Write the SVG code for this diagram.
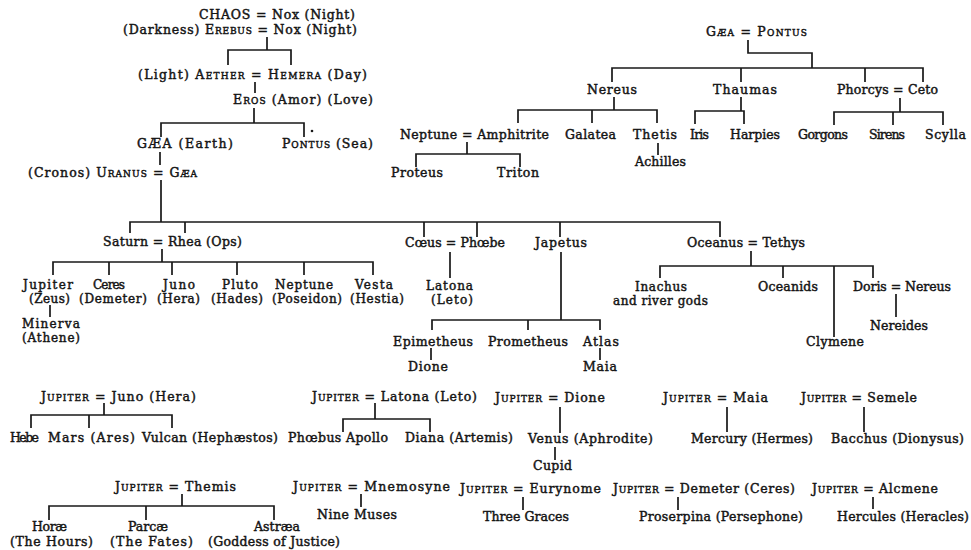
<svg xmlns="http://www.w3.org/2000/svg" width="971" height="550" viewBox="0 0 971 550">
<style>
text{font-family:"DejaVu Serif","Liberation Serif",serif;font-size:12.5px;fill:#141414;stroke:#141414;stroke-width:0.45px}
text.s2{font-size:12px}
.sc{font-variant:small-caps}
#connectors path{fill:none;stroke:#181818;stroke-width:1.7}
</style>
<rect width="971" height="550" fill="#fff"/>
<g id="connectors">
<path d="M267 37V50M228 65V50H291V65"/>
<path d="M255 82V93"/>
<path d="M254 108V123M161 137V123H304V137"/>
<path d="M160 152V165"/>
<path d="M161 180V222M130 233V222H720V237M185 222V233M424 222V237M477 222V237M560 222V237"/>
<path d="M162 249V262M53 275V262H373V275M109 262V275M172 262V275M237 262V275M304 262V275"/>
<path d="M50 305V317"/>
<path d="M450 252V278"/>
<path d="M561 252V320M432 330V320H600V330M528 320V330"/>
<path d="M431 348V360M600 348V360"/>
<path d="M751 251V266M660 278V266H873V278M783 266V278M834 266V337"/>
<path d="M896 294V317"/>
<path d="M748 40V53H812V68M612 82V68H923V82M741 68V82M865 68V82"/>
<path d="M614 97V110M518 123V110H657V123M592 110V123"/>
<path d="M741 97V111M695 124V111H744V124"/>
<path d="M900 98V112M834 125V112H943V125M893 112V125"/>
<path d="M658 143V155"/>
<path d="M467 142V154M416 167V154H520V167"/>
<path d="M104 403V415M31 428V415H172V428M89 415V428"/>
<path d="M375 403V419M343 432V419H430V432"/>
<path d="M560 407V433M555 447V460"/>
<path d="M727 407V432M864 407V432"/>
<path d="M182 494V506M49 520V506H274V520M146 506V520"/>
<path d="M361 494V507M523 497V510M678 497V510M873 497V509"/>
<circle cx="312" cy="131" r="1.3" fill="#181818"/>
</g>
<g id="chaos"><text x="199" y="19" textLength="156">CHAOS = Nox (Night)</text></g>
<g id="erebus"><text x="123" y="34" textLength="234">(Darkness) <tspan class="sc">Erebus</tspan> = Nox (Night)</text></g>
<g id="aether"><text x="138" y="79" textLength="229">(Light) <tspan class="sc">Aether</tspan> = <tspan class="sc">Hemera</tspan> (Day)</text></g>
<g id="eros"><text x="233" y="104" textLength="140"><tspan class="sc">Eros</tspan> (Amor) (Love)</text></g>
<g id="gaea-earth"><text x="137" y="148" textLength="96">GÆA (Earth)</text></g>
<g id="pontus-sea"><text x="282" y="148" textLength="91"><tspan class="sc">Pontus</tspan> (Sea)</text></g>
<g id="uranus"><text x="28" y="177" textLength="169">(Cronos) <tspan class="sc">Uranus</tspan> = <tspan class="sc">Gæa</tspan></text></g>
<g id="saturn"><text x="103" y="246" textLength="139">Saturn = Rhea (Ops)</text></g>
<g id="jupiter-zeus"><text class="s2" x="23" y="288.5" textLength="50">Jupiter</text><text class="s2" x="29" y="302.5" textLength="41">(Zeus)</text></g>
<g id="ceres"><text class="s2" x="93" y="288.5" textLength="32">Ceres</text><text class="s2" x="79" y="302.5" textLength="68">(Demeter)</text></g>
<g id="juno"><text class="s2" x="163" y="288.5" textLength="32">Juno</text><text class="s2" x="157" y="302.5" textLength="43">(Hera)</text></g>
<g id="pluto"><text class="s2" x="222" y="288.5" textLength="36">Pluto</text><text class="s2" x="211" y="302.5" textLength="52">(Hades)</text></g>
<g id="neptune"><text class="s2" x="275" y="288.5" textLength="58">Neptune</text><text class="s2" x="272" y="302.5" textLength="70">(Poseidon)</text></g>
<g id="vesta"><text class="s2" x="355" y="288.5" textLength="38">Vesta</text><text class="s2" x="350" y="302.5" textLength="54">(Hestia)</text></g>
<g id="minerva"><text class="s2" x="22" y="327.5" textLength="58">Minerva</text><text class="s2" x="22" y="341.5" textLength="58">(Athene)</text></g>
<g id="coeus"><text x="405" y="247" textLength="100">Cœus = Phœbe</text></g>
<g id="japetus"><text x="535" y="247" textLength="52">Japetus</text></g>
<g id="oceanus"><text x="687" y="247" textLength="118">Oceanus = Tethys</text></g>
<g id="latona"><text class="s2" x="426" y="290" textLength="47">Latona</text><text class="s2" x="431" y="304" textLength="42">(Leto)</text></g>
<g id="epimetheus"><text x="393" y="346" textLength="80">Epimetheus</text></g>
<g id="prometheus"><text x="488" y="346" textLength="80">Prometheus</text></g>
<g id="atlas"><text x="583" y="346" textLength="36">Atlas</text></g>
<g id="dione"><text x="408" y="371" textLength="40">Dione</text></g>
<g id="maia"><text x="583" y="371" textLength="34">Maia</text></g>
<g id="inachus"><text class="s2" x="635" y="290.5" textLength="52">Inachus</text><text class="s2" x="613" y="304.5" textLength="95">and river gods</text></g>
<g id="oceanids"><text x="758" y="291" textLength="60">Oceanids</text></g>
<g id="doris"><text x="853" y="291" textLength="98">Doris = Nereus</text></g>
<g id="nereides"><text x="870" y="330" textLength="58">Nereides</text></g>
<g id="clymene"><text x="806" y="346" textLength="58">Clymene</text></g>
<g id="gaea-pontus"><text x="706" y="36" textLength="101"><tspan class="sc">Gæa</tspan> = <tspan class="sc">Pontus</tspan></text></g>
<g id="nereus"><text x="587" y="94" textLength="50">Nereus</text></g>
<g id="thaumas"><text x="713" y="94" textLength="64">Thaumas</text></g>
<g id="phorcys"><text x="837" y="94" textLength="101">Phorcys = Ceto</text></g>
<g id="neptune-amphitrite"><text x="400" y="139" textLength="149">Neptune = Amphitrite</text></g>
<g id="galatea"><text x="565" y="139" textLength="51">Galatea</text></g>
<g id="thetis"><text x="633" y="139" textLength="44">Thetis</text></g>
<g id="iris"><text x="690" y="139" textLength="19">Iris</text></g>
<g id="harpies"><text x="730" y="139" textLength="50">Harpies</text></g>
<g id="gorgons"><text x="798" y="139" textLength="50">Gorgons</text></g>
<g id="sirens"><text x="869" y="139" textLength="36">Sirens</text></g>
<g id="scylla"><text x="925" y="139" textLength="41">Scylla</text></g>
<g id="achilles"><text x="635" y="166" textLength="51">Achilles</text></g>
<g id="proteus"><text x="391" y="177" textLength="52">Proteus</text></g>
<g id="triton"><text x="497" y="177" textLength="42">Triton</text></g>
<g id="jupiter-juno"><text x="41" y="401" textLength="155"><tspan class="sc">Jupiter</tspan> = Juno (Hera)</text></g>
<g id="hebe"><text x="10" y="442" textLength="29">Hebe</text></g>
<g id="mars"><text x="48" y="442" textLength="87">Mars (Ares)</text></g>
<g id="vulcan"><text x="142" y="442" textLength="136">Vulcan (Hephæstos)</text></g>
<g id="jupiter-latona"><text x="312" y="401" textLength="165"><tspan class="sc">Jupiter</tspan> = Latona (Leto)</text></g>
<g id="apollo"><text x="288" y="442" textLength="100">Phœbus Apollo</text></g>
<g id="diana"><text x="405" y="442" textLength="108">Diana (Artemis)</text></g>
<g id="jupiter-dione"><text x="495" y="402" textLength="110"><tspan class="sc">Jupiter</tspan> = Dione</text></g>
<g id="venus"><text x="528" y="443" textLength="125">Venus (Aphrodite)</text></g>
<g id="cupid"><text x="533" y="470" textLength="39">Cupid</text></g>
<g id="jupiter-maia"><text x="663" y="402" textLength="105"><tspan class="sc">Jupiter</tspan> = Maia</text></g>
<g id="mercury"><text x="691" y="443" textLength="122">Mercury (Hermes)</text></g>
<g id="jupiter-semele"><text x="801" y="402" textLength="116"><tspan class="sc">Jupiter</tspan> = Semele</text></g>
<g id="bacchus"><text x="831" y="443" textLength="133">Bacchus (Dionysus)</text></g>
<g id="jupiter-themis"><text x="115" y="491" textLength="121"><tspan class="sc">Jupiter</tspan> = Themis</text></g>
<g id="horae"><text x="32" y="531" textLength="35">Horæ</text><text x="10" y="546" textLength="83">(The Hours)</text></g>
<g id="parcae"><text x="128" y="531" textLength="40">Parcæ</text><text x="110" y="546" textLength="83">(The Fates)</text></g>
<g id="astraea"><text x="254" y="531" textLength="46">Astræa</text><text x="208" y="546" textLength="132">(Goddess of Justice)</text></g>
<g id="jupiter-mnemosyne"><text x="293" y="491" textLength="157"><tspan class="sc">Jupiter</tspan> = Mnemosyne</text></g>
<g id="nine-muses"><text x="317" y="519" textLength="80">Nine Muses</text></g>
<g id="jupiter-eurynome"><text x="460" y="493" textLength="141"><tspan class="sc">Jupiter</tspan> = Eurynome</text></g>
<g id="three-graces"><text x="483" y="521" textLength="86">Three Graces</text></g>
<g id="jupiter-demeter"><text x="613" y="493" textLength="182"><tspan class="sc">Jupiter</tspan> = Demeter (Ceres)</text></g>
<g id="proserpina"><text x="639" y="521" textLength="164">Proserpina (Persephone)</text></g>
<g id="jupiter-alcmene"><text x="812" y="493" textLength="126"><tspan class="sc">Jupiter</tspan> = Alcmene</text></g>
<g id="hercules"><text x="837" y="521" textLength="132">Hercules (Heracles)</text></g>
</svg>
